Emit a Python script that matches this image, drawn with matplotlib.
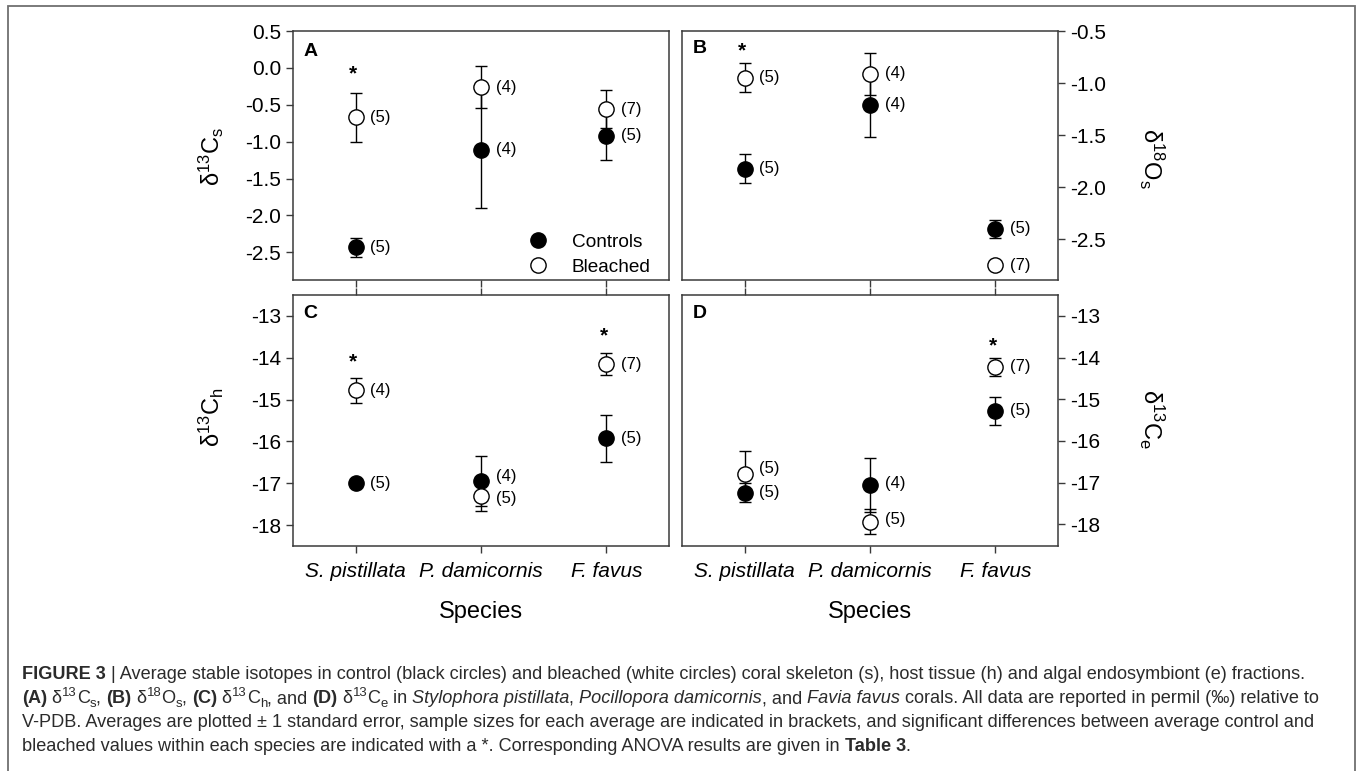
import matplotlib
matplotlib.use('Agg')
import matplotlib.pyplot as plt
from matplotlib import font_manager
from matplotlib.patches import Rectangle
from matplotlib.lines import Line2D
import numpy as np

# ---------------- data ----------------
species = ['S. pistillata', 'P. damicornis', 'F. favus']
series_names = ['Controls', 'Bleached']

# Panel A: d13C skeleton
A_ctrl = [-2.43, -1.11, -0.92]
A_ctrl_se = [0.13, 0.79, 0.33]
A_bl = [-0.67, -0.26, -0.56]
A_bl_se = [0.33, 0.28, 0.26]
A_n_ctrl = [5, 4, 5]
A_n_bl = [5, 4, 7]
A_sig = [-0.04, None, None]

# Panel B: d18O skeleton
B_ctrl = [-1.82, -1.21, -2.40]
B_ctrl_se = [0.14, 0.31, 0.09]
B_bl = [-0.95, -0.91, -2.75]
B_bl_se = [0.14, 0.20, 0.03]
B_n_ctrl = [5, 4, 5]
B_n_bl = [5, 4, 7]
B_sig = [-0.66, None, None]

# Panel C: d13C host tissue
C_ctrl = [-17.00, -16.94, -15.93]
C_ctrl_se = [0.05, 0.60, 0.56]
C_bl = [-14.78, -17.30, -14.15]
C_bl_se = [0.29, 0.36, 0.26]
C_n_ctrl = [5, 4, 5]
C_n_bl = [4, 5, 7]
C_sig = [-14.03, None, -13.41]

# Panel D: d13C algal endosymbiont
D_ctrl = [-17.24, -17.06, -15.28]
D_ctrl_se = [0.23, 0.64, 0.34]
D_bl = [-16.80, -17.94, -14.22]
D_bl_se = [0.56, 0.30, 0.22]
D_n_ctrl = [5, 4, 5]
D_n_bl = [5, 5, 7]
D_sig = [None, None, -13.66]

A_yticks = [0.5, 0.0, -0.5, -1.0, -1.5, -2.0, -2.5]
B_yticks = [-0.5, -1.0, -1.5, -2.0, -2.5]
C_yticks = [-13, -14, -15, -16, -17, -18]
D_yticks = [-13, -14, -15, -16, -17, -18]

# ---------------- style ----------------
FONT = ['Liberation Sans', 'DejaVu Sans']
plt.rcParams['font.family'] = FONT
plt.rcParams['mathtext.fontset'] = 'custom'
plt.rcParams['mathtext.rm'] = 'Liberation Sans'

W, H = 1360, 771
fig = plt.figure(figsize=(W / 100, H / 100), dpi=100)
fig.patch.set_facecolor('white')

SPINE = '#3a3a3a'


def px_axes(l, t, r, b):
    return fig.add_axes([l / W, 1 - b / H, (r - l) / W, (b - t) / H])


axA = px_axes(293, 31, 669, 280)
axB = px_axes(682, 31, 1058, 280)
axC = px_axes(293, 295, 669, 546)
axD = px_axes(682, 295, 1058, 546)

x = np.arange(1, len(species) + 1)

# label nudges (points) for crowded "(n)" annotations: (panel, series, index) -> dy
nudges = {('C', 0, 1): 3, ('C', 1, 1): -2, ('D', 1, 0): 4, ('D', 0, 1): 1.5, ('D', 1, 1): 1.5}


def panel(ax, key, ctrl, ctrl_se, bl, bl_se, n_ctrl, n_bl, sig, yticks, ylim, fmt,
          right=False, bottom_labels=False, top_ticks=False):
    ax.errorbar(x, ctrl, yerr=ctrl_se, fmt='o', ms=11, mfc='black', mec='black', mew=1,
                ecolor='black', elinewidth=1, capsize=4.4, capthick=1, zorder=3)
    ax.errorbar(x, bl, yerr=bl_se, fmt='o', ms=11, mfc='white', mec='black', mew=1,
                ecolor='black', elinewidth=1, capsize=4.4, capthick=1, zorder=4)
    for si, (vals, ns) in enumerate([(ctrl, n_ctrl), (bl, n_bl)]):
        for i, (v, n) in enumerate(zip(vals, ns)):
            dy = nudges.get((key, si, i), 0)
            ax.annotate(f'({n})', xy=(x[i], v), xytext=(10.5, dy), textcoords='offset points',
                        ha='left', va='center', fontsize=12, zorder=6)
    for i, s in enumerate(sig):
        if s is not None:
            ax.annotate('*', xy=(x[i], s), xytext=(-2, -6.0), textcoords='offset points',
                        ha='center', va='baseline', fontsize=15, fontweight='bold')
    ax.set_xlim(0.5, 3.5)
    ax.set_ylim(*ylim)
    ax.set_yticks(yticks)
    ax.set_yticklabels([fmt.format(v) for v in yticks])
    ax.set_xticks(x)
    if bottom_labels:
        ax.set_xticklabels(species, fontstyle='italic', fontsize=14)
        ax.set_xlabel('Species', fontsize=17, labelpad=14.5)
    else:
        ax.set_xticklabels([])
    for sp in ax.spines.values():
        sp.set_color(SPINE)
        sp.set_linewidth(1.1)
    ax.tick_params(axis='both', direction='out', length=5, width=1, color=SPINE,
                   labelsize=15, pad=3.5)
    ax.tick_params(axis='x', pad=6.5, top=top_ticks, labeltop=False)
    if right:
        ax.yaxis.tick_right()
    return ax


panel(axA, 'A', A_ctrl, A_ctrl_se, A_bl, A_bl_se, A_n_ctrl, A_n_bl, A_sig, A_yticks,
      (-2.875, 0.5), '{:.1f}')
panel(axB, 'B', B_ctrl, B_ctrl_se, B_bl, B_bl_se, B_n_ctrl, B_n_bl, B_sig, B_yticks,
      (-2.89, -0.51), '{:.1f}', right=True)
panel(axC, 'C', C_ctrl, C_ctrl_se, C_bl, C_bl_se, C_n_ctrl, C_n_bl, C_sig, C_yticks,
      (-18.5, -12.5), '{:.0f}', bottom_labels=True, top_ticks=True)
panel(axD, 'D', D_ctrl, D_ctrl_se, D_bl, D_bl_se, D_n_ctrl, D_n_bl, D_sig, D_yticks,
      (-18.52, -12.5), '{:.0f}', right=True, bottom_labels=True, top_ticks=True)

for ax, letter, dy in [(axA, 'A', -14.5), (axB, 'B', -12.5), (axC, 'C', -13), (axD, 'D', -13.5)]:
    ax.annotate(letter, xy=(0, 1), xycoords='axes fraction', xytext=(7.5, dy),
                textcoords='offset points', ha='left', va='center', fontsize=14,
                fontweight='bold')

# legend
handles = [Line2D([], [], ls='none', marker='o', ms=11, mfc='black', mec='black', mew=1),
           Line2D([], [], ls='none', marker='o', ms=11, mfc='white', mec='black', mew=1)]
axA.legend(handles, series_names, loc='upper left', bbox_to_anchor=(0.625, 0.187),
           frameon=False, fontsize=13.7, handlelength=1.0, handletextpad=1.3,
           labelspacing=0.42, borderpad=0, borderaxespad=0, numpoints=1)

# y labels
fig.text(211 / W, 1 - 156 / H, r'$\mathregular{\delta^{13}C_s}$', rotation=90,
         ha='center', va='center', fontsize=17)
fig.text(211 / W, 1 - 417 / H, r'$\mathregular{\delta^{13}C_h}$', rotation=90,
         ha='center', va='center', fontsize=17)
fig.text(1152 / W, 1 - 158 / H, r'$\mathregular{\delta^{18}O_s}$', rotation=270,
         ha='center', va='center', fontsize=17)
fig.text(1152 / W, 1 - 419 / H, r'$\mathregular{\delta^{13}C_e}$', rotation=270,
         ha='center', va='center', fontsize=17)

# outer frame
fig.patches.append(Rectangle((7.5 / W, -0.05), (1355 - 7.5) / W, 1.05 - 6.5 / H,
                             transform=fig.transFigure, fill=False, ec='#707070', lw=1.3))

# ---------------- caption ----------------
names = {f.name for f in font_manager.fontManager.ttflist}
CAP_FONT = 'Liberation Sans Narrow' if 'Liberation Sans Narrow' in names else 'Liberation Sans'
CAP_COLOR = '#2b2b2b'

cap_lines = [
    [('FIGURE 3', 'b'), (' | Average stable isotopes in control (black circles) and bleached (white circles) '
                         'coral skeleton (s), host tissue (h) and algal endosymbiont (e) fractions.', 'n')],
    [('(A)', 'b'), (' \u03b4', 'n'), ('13', 'sup'), ('C', 'n'), ('s', 'sub'), (', ', 'n'),
     ('(B)', 'b'), (' \u03b4', 'n'), ('18', 'sup'), ('O', 'n'), ('s', 'sub'), (', ', 'n'),
     ('(C)', 'b'), (' \u03b4', 'n'), ('13', 'sup'), ('C', 'n'), ('h', 'sub'), (', and ', 'n'),
     ('(D)', 'b'), (' \u03b4', 'n'), ('13', 'sup'), ('C', 'n'), ('e', 'sub'), (' in ', 'n'),
     ('Stylophora pistillata', 'i'), (', ', 'n'), ('Pocillopora damicornis', 'i'), (', and ', 'n'),
     ('Favia favus', 'i'), (' corals. All data are reported in permil (\u2030) relative to', 'n')],
    [('V-PDB. Averages are plotted \u00b1 1 standard error, sample sizes for each average are indicated '
      'in brackets, and significant differences between average control and', 'n')],
    [('bleached values within each species are indicated with a *. Corresponding ANOVA results are '
      'given in ', 'n'), ('Table 3', 'b'), ('.', 'n')],
]
cap_baselines = [679, 703, 727, 751]

renderer = fig.canvas.get_renderer()


def seg_kw(style, size):
    kw = dict(fontsize=size, family=[CAP_FONT, 'DejaVu Sans'], color=CAP_COLOR,
              va='baseline', ha='left')
    dy = 0.0
    if style == 'b':
        kw['fontweight'] = 'bold'
    elif style == 'i':
        kw['fontstyle'] = 'italic'
    elif style == 'sup':
        kw['fontsize'] = size * 0.72
        dy = -0.40 * size * 100 / 72
    elif style == 'sub':
        kw['fontsize'] = size * 0.72
        dy = 0.22 * size * 100 / 72
    return kw, dy


def advance(txt, kw):
    t1 = fig.text(0, 0, txt + '|', **kw)
    t2 = fig.text(0, 0, '|', **kw)
    w = t1.get_window_extent(renderer).width - t2.get_window_extent(renderer).width
    t1.remove()
    t2.remove()
    return w


def line_width(segs, size):
    tot = 0
    for txt, st in segs:
        kw, _ = seg_kw(st, size)
        tot += advance(txt, kw)
    return tot


def draw_line(segs, x0, base, size):
    xx = x0
    for txt, st in segs:
        kw, dy = seg_kw(st, size)
        fig.text(xx / W, 1 - (base + dy) / H, txt, **kw)
        xx += advance(txt, kw)


size = 10.0
for _ in range(2):
    wline = line_width(cap_lines[1], size)
    size = size * (1322 - 22) / wline

for segs, base in zip(cap_lines, cap_baselines):
    draw_line(segs, 22, base, size)

fig.savefig('out.png', dpi=100, facecolor='white')
